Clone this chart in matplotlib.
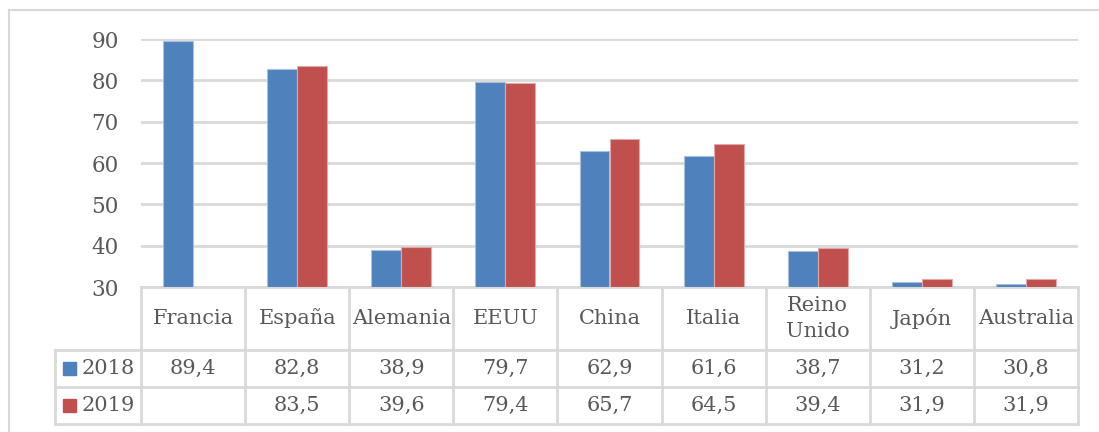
import matplotlib
matplotlib.use("Agg")
import matplotlib.pyplot as plt
import matplotlib.transforms as mtransforms
import numpy as np

# data
paises = ["Francia", "España", "Alemania", "EEUU", "China", "Italia",
          "Reino\nUnido", "Japón", "Australia"]
v2018 = [89.4, 82.8, 38.9, 79.7, 62.9, 61.6, 38.7, 31.2, 30.8]
v2019 = [None, 83.5, 39.6, 79.4, 65.7, 64.5, 39.4, 31.9, 31.9]
series = ["2018", "2019"]
yticks = [30, 40, 50, 60, 70, 80, 90]

BLUE = "#4f81bd"
RED = "#c0504d"
GRID = "#d9d9d9"
TXT = "#595959"
FONT = "DejaVu Serif"
FS = 15

W, H = 1099, 432
fig = plt.figure(figsize=(W / 100, H / 100), dpi=100)
plt.rcParams["font.family"] = FONT

# plot area in pixels: x 141..1078, y 39..287
ax = fig.add_axes([141 / W, (H - 287) / H, (1078 - 141) / W, (287 - 39) / H])
ax.set_xlim(-0.5, len(paises) - 0.5)
ax.set_ylim(30, 90)
for s in ax.spines.values():
    s.set_visible(False)
ax.set_xticks([])
ax.set_yticks(yticks)
ax.set_yticklabels([str(t) for t in yticks], fontsize=15.5, color=TXT, family=FONT)
ax.tick_params(axis="y", length=0, pad=16)
ax.yaxis.grid(True, color=GRID, linewidth=2)
ax.set_axisbelow(True)

x = np.arange(len(paises))
bw = 0.288
b18 = [v if v is not None else np.nan for v in v2018]
b19 = [v if v is not None else np.nan for v in v2019]
ax.bar(x - bw / 2, np.array(b18) - 30, bw, bottom=30, color=BLUE,
       edgecolor="#a7c0de", linewidth=0.8, zorder=3)
ax.bar(x + bw / 2, np.array(b19) - 30, bw, bottom=30, color=RED,
       edgecolor="#e0a8a6", linewidth=0.8, zorder=3)

# data table below the axes (x in data units, y in axes fraction)
trans = mtransforms.blended_transform_factory(ax.transData, ax.transAxes)
ph = 287 - 39
y_head = 0.0
y_r1 = -(350 - 287) / ph
y_r2 = -(387 - 287) / ph
y_r3 = -(424 - 287) / ph
colw = (1078 - 141) / len(paises)
legx = -0.5 - (141 - 55) / colw
lk = dict(color=GRID, linewidth=2, transform=trans, clip_on=False, zorder=1)

ax.plot([-0.5, len(paises) - 0.5], [y_head, y_head], **lk)
for yy in (y_r1, y_r2, y_r3):
    ax.plot([legx, len(paises) - 0.5], [yy, yy], **lk)
for xb in np.arange(len(paises) + 1) - 0.5:
    ax.plot([xb, xb], [y_head, y_r3], **lk)
ax.plot([legx, legx], [y_r1, y_r3], **lk)

tk = dict(transform=trans, ha="center", va="center", fontsize=FS,
          color=TXT, family=FONT, clip_on=False, linespacing=1.45)
for i, p in enumerate(paises):
    ax.text(i, (y_head + y_r1) / 2, p, **tk)
    if v2018[i] is not None:
        ax.text(i, (y_r1 + y_r2) / 2, f"{v2018[i]:.1f}".replace(".", ","), **tk)
    if v2019[i] is not None:
        ax.text(i, (y_r2 + y_r3) / 2, f"{v2019[i]:.1f}".replace(".", ","), **tk)

# legend keys in table
for yy, lab, col in [((y_r1 + y_r2) / 2, series[0], BLUE),
                     ((y_r2 + y_r3) / 2, series[1], RED)]:
    ax.add_patch(plt.Rectangle((legx + 8 / colw, yy - 0.027), 13 / colw, 0.054,
                               color=col, transform=trans, clip_on=False))
    ax.text(-0.5 - 6 / colw, yy, lab, transform=trans, ha="right", va="center",
            fontsize=FS, color=TXT, family=FONT, clip_on=False)

# chart border (open at bottom and right)
bc = "#d9d9d9"
fig.add_artist(plt.Line2D([9 / W, 9 / W], [0, 1 - 10 / H], color=bc, linewidth=1.5))
fig.add_artist(plt.Line2D([9 / W, 1], [1 - 10 / H, 1 - 10 / H], color=bc, linewidth=1.5))

fig.savefig("out.png", dpi=100)
